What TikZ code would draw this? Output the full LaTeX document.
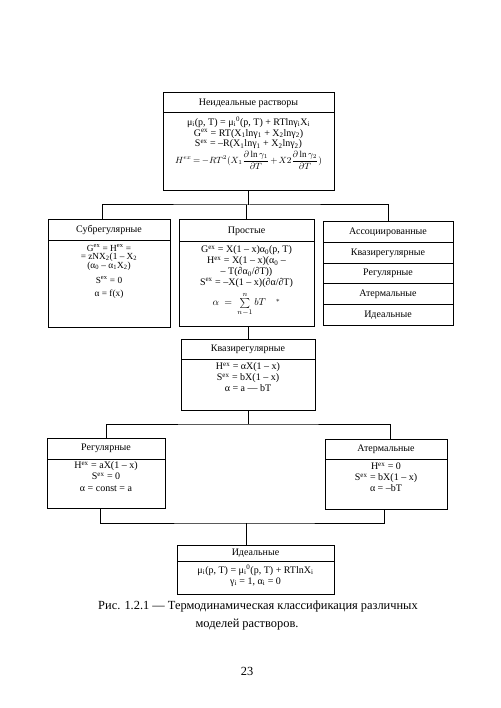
\RequirePackage{fix-cm}
\documentclass[tikz,border=0pt]{standalone}
\usepackage{amsmath}
\usepackage{fontspec}
\setmainfont{Liberation Serif}
\newcommand{\Lo}[1]{\textsubscript{#1}}
\newcommand{\Hi}[1]{\textsuperscript{#1}}
\tikzset{
  box/.style={draw,line width=1pt,inner sep=0pt,outer sep=0pt,anchor=north west},
  ttl/.style={font=\fontsize{10}{11}\selectfont},
  txt/.style={inner sep=0pt,outer sep=0pt,anchor=north,align=center,font=\fontsize{10}{10.8}\selectfont},
  capline/.style={inner sep=0pt,outer sep=0pt,anchor=base,font=\fontsize{12.4}{14}\selectfont},
  link/.style={line width=1pt}
}
\begin{document}
\begin{tikzpicture}[x=1pt,y=-1pt]
\fill[white] (0,0) rectangle (500,708);
\useasboundingbox (0,0) rectangle (500,708);
% top box
\node[box,ttl,minimum width=171pt,minimum height=20pt] (nonidT) at (163,93) {Неидеальные растворы};
\node[box,minimum width=171pt,minimum height=78pt] (nonidB) at (nonidT.south west) {};
\node[txt] (nonidF) at ([yshift=-4pt]nonidB.north) {μ\Lo{i}(p, T) = μ\Lo{i}\Hi{0}(p, T) + RTlnγ\Lo{i}X\Lo{i}\\
  G\Hi{ex} = RT(X\Lo{1}lnγ\Lo{1} + X\Lo{2}lnγ\Lo{2})\\
  S\Hi{ex} = –R(X\Lo{1}lnγ\Lo{1} + X\Lo{2}lnγ\Lo{2})\\[1pt]
  {\fontsize{9}{10}\selectfont\thickmuskip=3mu\medmuskip=2mu
  $H^{ex}=-RT^2(X_1\dfrac{\partial\ln\gamma_1}{\partial T}+X2\dfrac{\partial\ln\gamma_2}{\partial T})$}};
% second row
\node[box,ttl,minimum width=122pt,minimum height=21pt] (subT) at (48,220) {Субрегулярные};
\node[box,minimum width=122pt,minimum height=86pt] (subB) at (subT.south west) {};
\node[txt,font=\fontsize{9.3}{8.8}\selectfont] (subF) at ([yshift=-3pt]subB.north) {G\Hi{ex} = H\Hi{ex} =\\
  = zNX\Lo{2}(1 – X\Lo{2}\\
  (α\Lo{0} – α\Lo{1}X\Lo{2})\\[5pt]
  S\Hi{ex} = 0\\[4pt]
  α = f(x)};
\node[box,ttl,minimum width=135pt,minimum height=22pt] (prostT) at (179,220) {Простые};
\node[box,minimum width=135pt,minimum height=84pt] (prostB) at (prostT.south west) {};
\node[txt] (prostF) at ([yshift=-4pt]prostB.north) {G\Hi{ex} = X(1 – x)α\Lo{0}(p, T)\\
  H\Hi{ex} = X(1 – x)(α\Lo{0} –\\
  – T(∂α\Lo{0}/∂T))\\
  S\Hi{ex} = –X(1 – x)(∂α/∂T)\\[4pt]
  $\alpha\ =\ \sum\limits_{n-1}^{n}bT\quad{}^{*}$};
\node[box,ttl,minimum width=130pt,minimum height=20.6pt] (asc) at (323,222) {Ассоциированные};
\node[box,ttl,minimum width=130pt,minimum height=20.6pt] (ascKv) at (asc.south west) {Квазирегулярные};
\node[box,ttl,minimum width=130pt,minimum height=20.6pt] (ascReg) at (ascKv.south west) {Регулярные};
\node[box,ttl,minimum width=130pt,minimum height=20.6pt] (ascAt) at (ascReg.south west) {Атермальные};
\node[box,ttl,minimum width=130pt,minimum height=20.6pt] (ascId) at (ascAt.south west) {Идеальные};
% quasi-regular
\node[box,ttl,minimum width=134pt,minimum height=20pt] (kvaziT) at (181,339) {Квазирегулярные};
\node[box,minimum width=134pt,minimum height=51pt] (kvaziB) at (kvaziT.south west) {};
\node[txt] (kvaziF) at ([yshift=-4pt]kvaziB.north) {H\Hi{ex} = αX(1 – x)\\
  S\Hi{ex} = bX(1 – x)\\
  α = a — bT};
% regular and athermal
\node[box,ttl,minimum width=118pt,minimum height=21pt] (regT) at (47,438) {Регулярные};
\node[box,minimum width=118pt,minimum height=49pt] (regB) at (regT.south west) {};
\node[txt] (regF) at ([yshift=-3pt]regB.north) {H\Hi{ex} = aX(1 – x)\\
  S\Hi{ex} = 0\\[1pt]
  α = const = a};
\node[box,ttl,minimum width=122pt,minimum height=20pt] (atT) at (325,439) {Атермальные};
\node[box,minimum width=122pt,minimum height=50pt] (atB) at (atT.south west) {};
\node[txt] (atF) at ([yshift=-4pt]atB.north) {H\Hi{ex} = 0\\
  S\Hi{ex} = bX(1 – x)\\
  α = –bT};
% ideal
\node[box,ttl,minimum width=157pt,minimum height=16pt] (idT) at (177,545) {Идеальные};
\node[box,minimum width=157pt,minimum height=33pt] (idB) at (idT.south west) {};
\node[txt] (idF) at ([yshift=-4pt]idB.north) {μ\Lo{i}(p, T) = μ\Lo{i}\Hi{0}(p, T) + RTlnX\Lo{i}\\
  γ\Lo{i} = 1, α\Lo{i} = 0};
% connectors
\coordinate (busA) at ([yshift=-14pt]nonidB.south);
\draw[link] (nonidB.south) -- (busA);
\draw[link] ([xshift=-7pt]subT.north) |- (busA) -| (asc.north);
\draw[link] (prostT.north) -- (prostT.north |- busA);
\draw[link] (kvaziT.north |- prostB.south) -- (kvaziT.north);
\coordinate (busB) at ([yshift=-14pt]kvaziB.south);
\draw[link] (kvaziB.south) -- (busB);
\draw[link] (regT.north) |- (busB) -| ([xshift=4pt]atT.north);
\coordinate (busC) at ([xshift=-9pt,yshift=22pt]idT.north);
\draw[link] ([xshift=-6pt]regB.south) |- (busC) -| ([xshift=-2pt]atB.south);
\draw[link] (busC) -- (busC |- idT.north);
% caption
\node[capline] (capA) at (258,609) {Рис. 1.2.1 — Термодинамическая классификация различных};
\node[capline] (capB) at (247,627) {моделей растворов.};
\node[capline] (pnum) at (247,675) {23};
\end{tikzpicture}
\end{document}
